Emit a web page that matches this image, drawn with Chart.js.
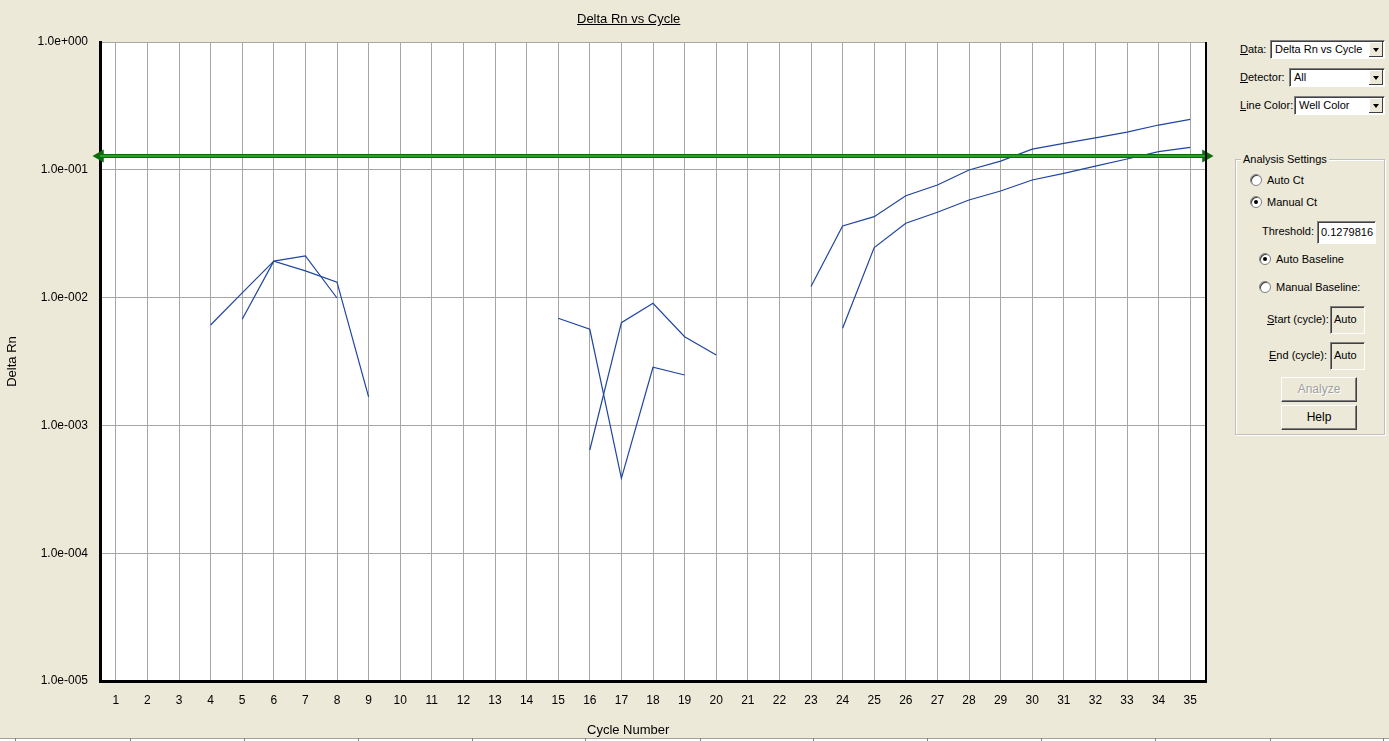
<!DOCTYPE html>
<html>
<head>
<meta charset="utf-8">
<script src="https://cdn.jsdelivr.net/npm/chart.js@4"></script>
<style>
  body { margin: 0; background: #ece9d8; font-family: "Liberation Sans", Arial, sans-serif; font-size: 11px; color: #000; }
  #wrap { position: relative; width: 1389px; height: 741px; overflow: hidden; }
  #grafo { position: absolute; left: 0; top: 0; }
  .abs { position: absolute; white-space: nowrap; }
  .titulo { left: 577px; top: 11px; font-size: 13px; text-decoration: underline; }
  .xlabel { left: 587px; top: 722px; font-size: 13px; }
  .combo { position: absolute; height: 17px; background: #fff; border-top: 1px solid #808080; border-left: 1px solid #808080; border-right: 1px solid #fff; border-bottom: 1px solid #fff; box-shadow: inset 1px 1px 0 #404040; }
  .combo span { position: absolute; left: 4px; top: 2px; }
  .combo i { position: absolute; right: 1px; top: 1px; width: 14px; height: 15px; background: #ece9d8; box-shadow: inset -1px -1px 0 #404040, inset 1px 1px 0 #fff; }
  .combo i:after { content: ""; position: absolute; left: 4px; top: 6px; border-left: 3.5px solid transparent; border-right: 3.5px solid transparent; border-top: 4px solid #000; }
  .grupo { position: absolute; left: 1235px; top: 159px; width: 148px; height: 274px; border: 1px solid #c0c0c0; box-shadow: 1px 1px 0 #fff, inset 1px 1px 0 #fff; }
  .grupo-tit { left: 1241px; top: 153px; background: #ece9d8; padding: 0 2px; }
  .radio { position: absolute; width: 10px; height: 10px; border-radius: 50%; background: #fff; border: 1px solid #808080; box-shadow: inset 1px 1px 0 #404040; }
  .radio.on:after { content: ""; position: absolute; left: 3px; top: 3px; width: 4px; height: 4px; border-radius: 50%; background: #000; }
  .caja { position: absolute; background: #fff; border-top: 1px solid #808080; border-left: 1px solid #808080; border-right: 1px solid #fff; border-bottom: 1px solid #fff; box-shadow: inset 1px 1px 0 #404040; }
  .caja.gris { background: #ece9d8; }
  .caja span { position: absolute; left: 3px; top: 4px; }
  .boton { position: absolute; width: 74px; height: 23px; background: #ece9d8; border-top: 1px solid #fff; border-left: 1px solid #fff; border-right: 1px solid #404040; border-bottom: 1px solid #404040; box-shadow: inset -1px -1px 0 #808080; text-align: center; line-height: 23px; font-size: 12px; }
  .boton.off { color: #a0a0a0; text-shadow: 1px 1px 0 #fff; }
  .barra { position: absolute; left: 0; top: 738px; width: 1389px; height: 3px; border-top: 1px solid #a0a0a0; background: #fff; }
  .marca { position: absolute; top: 738px; width: 1px; height: 3px; background: #808080; }
</style>
</head>
<body>
<div id="wrap">
  <canvas id="grafo" width="1222" height="741"></canvas>
  <div class="abs titulo">Delta Rn vs Cycle</div>
  <div class="abs xlabel">Cycle Number</div>

  <!-- panel derecho -->
  <div class="abs" style="left:1240px; top:43px;"><u>D</u>ata:</div>
  <div class="combo" style="left:1270px; top:40px; width:113px;"><span>Delta Rn vs Cycle</span><i></i></div>
  <div class="abs" style="left:1240px; top:71px;"><u>D</u>etector:</div>
  <div class="combo" style="left:1289px; top:68px; width:94px;"><span>All</span><i></i></div>
  <div class="abs" style="left:1240px; top:99px;"><u>L</u>ine Color:</div>
  <div class="combo" style="left:1294px; top:96px; width:89px;"><span>Well Color</span><i></i></div>

  <div class="grupo"></div>
  <div class="abs grupo-tit">Analysis Settings</div>
  <div class="radio" style="left:1250px; top:174px;"></div>
  <div class="abs" style="left:1267px; top:174px;">Auto Ct</div>
  <div class="radio on" style="left:1250px; top:196px;"></div>
  <div class="abs" style="left:1267px; top:196px;">Manual Ct</div>
  <div class="abs" style="left:1262px; top:225px;">Threshold:</div>
  <div class="caja" style="left:1317px; top:221px; width:57px; height:21px;"><span>0.1279816</span></div>
  <div class="radio on" style="left:1259px; top:253px;"></div>
  <div class="abs" style="left:1276px; top:253px;">Auto Baseline</div>
  <div class="radio" style="left:1259px; top:281px;"></div>
  <div class="abs" style="left:1276px; top:281px;">Manual Baseline:</div>
  <div class="abs" style="left:1267px; top:313px;"><u>S</u>tart (cycle):</div>
  <div class="caja gris" style="left:1330px; top:306px; width:33px; height:26px;"><span style="top:6px;">Auto</span></div>
  <div class="abs" style="left:1269px; top:349px;"><u>E</u>nd (cycle):</div>
  <div class="caja gris" style="left:1330px; top:342px; width:33px; height:26px;"><span style="top:6px;">Auto</span></div>
  <div class="boton off" style="left:1281px; top:377px;">Analyze</div>
  <div class="boton" style="left:1281px; top:405px;">Help</div>

  <div class="barra"></div>
  <div id="marcas"></div>
</div>

<script>
// ciclos del eje x
const ciclos = [1, 2, 3, 4, 5, 6, 7, 8, 9, 10, 11, 12, 13, 14, 15, 16, 17, 18, 19, 20,
  21, 22, 23, 24, 25, 26, 27, 28, 29, 30, 31, 32, 33, 34, 35];

// Delta Rn del pozo A (null = sin valor)
const pozoA = [null, null, null, 0.0061, 0.0109, 0.0193, 0.0162, 0.0132, 0.00167, null,
  null, null, null, null, 0.00689, 0.00565, 0.000385, 0.00285, 0.00248, null,
  null, null, 0.0122, 0.0363, 0.0430, 0.0627, 0.0760, 0.0996, 0.117, 0.145,
  0.161, 0.178, 0.197, 0.224, 0.248];

// Delta Rn del pozo B
const pozoB = [null, null, null, null, 0.00676, 0.0193, 0.0212, 0.00993, null, null,
  null, null, null, null, null, 0.000642, 0.00636, 0.00902, 0.00494, 0.00356,
  null, null, null, 0.00575, 0.0246, 0.0382, 0.0465, 0.0580, 0.0682, 0.0832,
  0.0939, 0.107, 0.1215, 0.1386, 0.150];

const umbral = 0.1279816;
const ticksY = [1e-5, 1e-4, 1e-3, 1e-2, 1e-1, 1];
const limitesX = [0.5, 35.5];

// marcas de la barra de abajo
const posMarcas = [15, 130, 244, 358, 472, 585, 700, 813, 927, 1041, 1155, 1270, 1383];
for (let p of posMarcas) {
  const m = document.createElement('div');
  m.className = 'marca';
  m.style.left = p + 'px';
  document.getElementById('marcas').appendChild(m);
}

function formatoExp(v) {
  const e = Math.round(Math.log10(v));
  return '1.0e' + (e < 0 ? '-' : '+') + String(Math.abs(e)).padStart(3, '0');
}

// fondo blanco y borde derecho del area
const fondoArea = {
  id: 'fondoArea',
  beforeDraw(chart) {
    const a = chart.chartArea, ctx = chart.ctx;
    ctx.save();
    ctx.fillStyle = '#fff';
    ctx.fillRect(a.left, a.top, a.right - a.left, a.bottom - a.top);
    ctx.restore();
  },
  afterDatasetsDraw(chart) {
    const a = chart.chartArea, ctx = chart.ctx;
    ctx.save();
    ctx.strokeStyle = '#000';
    ctx.lineWidth = 2;
    ctx.beginPath();
    ctx.moveTo(a.right, a.top);
    ctx.lineTo(a.right, a.bottom);
    ctx.stroke();
    ctx.restore();
  }
};

const lineaUmbral = limitesX.map(x => ({x: x, y: umbral}));
const azul = '#1f45a0';

new Chart(document.getElementById('grafo'), {
  type: 'line',
  data: {
    datasets: [
      {
        data: lineaUmbral, borderColor: '#2fb52f', borderWidth: 1.5,
        pointRadius: 0, clip: false
      },
      {
        data: lineaUmbral, borderColor: '#0d6a0d', borderWidth: 4,
        pointStyle: 'triangle', pointRadius: 3.5, pointRotation: [-90, 90],
        pointBackgroundColor: '#0d6a0d', pointBorderColor: '#0d6a0d', clip: false
      },
      {
        data: ciclos.map((c, i) => ({x: c, y: pozoA[i]})),
        borderColor: azul, borderWidth: 1.2, pointRadius: 0, spanGaps: false
      },
      {
        data: ciclos.map((c, i) => ({x: c, y: pozoB[i]})),
        borderColor: azul, borderWidth: 1.2, pointRadius: 0, spanGaps: false
      }
    ]
  },
  options: {
    responsive: false,
    animation: false,
    devicePixelRatio: 1,
    layout: { padding: { top: 42, right: 16, bottom: 0, left: 0 } },
    plugins: { legend: { display: false }, tooltip: { enabled: false }, title: { display: false } },
    scales: {
      x: {
        type: 'linear',
        min: limitesX[0],
        max: limitesX[1],
        afterBuildTicks: (s) => { s.ticks = ciclos.map(c => ({value: c})); },
        afterFit: (s) => { s.height = 60; },
        ticks: {
          autoSkip: false, maxRotation: 0, padding: 12, color: '#000',
          font: { family: 'Liberation Sans', size: 12 }
        },
        grid: { color: '#a6a6a6', lineWidth: 1, drawTicks: false },
        border: { color: '#000', width: 3 }
      },
      y: {
        type: 'logarithmic',
        min: ticksY[0],
        max: ticksY[ticksY.length - 1],
        afterBuildTicks: (s) => { s.ticks = ticksY.map(v => ({value: v})); },
        afterFit: (s) => { s.width = 100; },
        ticks: {
          padding: 12, color: '#000',
          font: { family: 'Liberation Sans', size: 12 },
          callback: (v) => formatoExp(v)
        },
        grid: { color: '#a6a6a6', lineWidth: 1, drawTicks: false },
        border: { color: '#000', width: 3 },
        title: {
          display: true, text: 'Delta Rn', color: '#000',
          font: { family: 'Liberation Sans', size: 13 }, padding: { top: 5, bottom: 2 }
        }
      }
    }
  },
  plugins: [fondoArea]
});
</script>
</body>
</html>
